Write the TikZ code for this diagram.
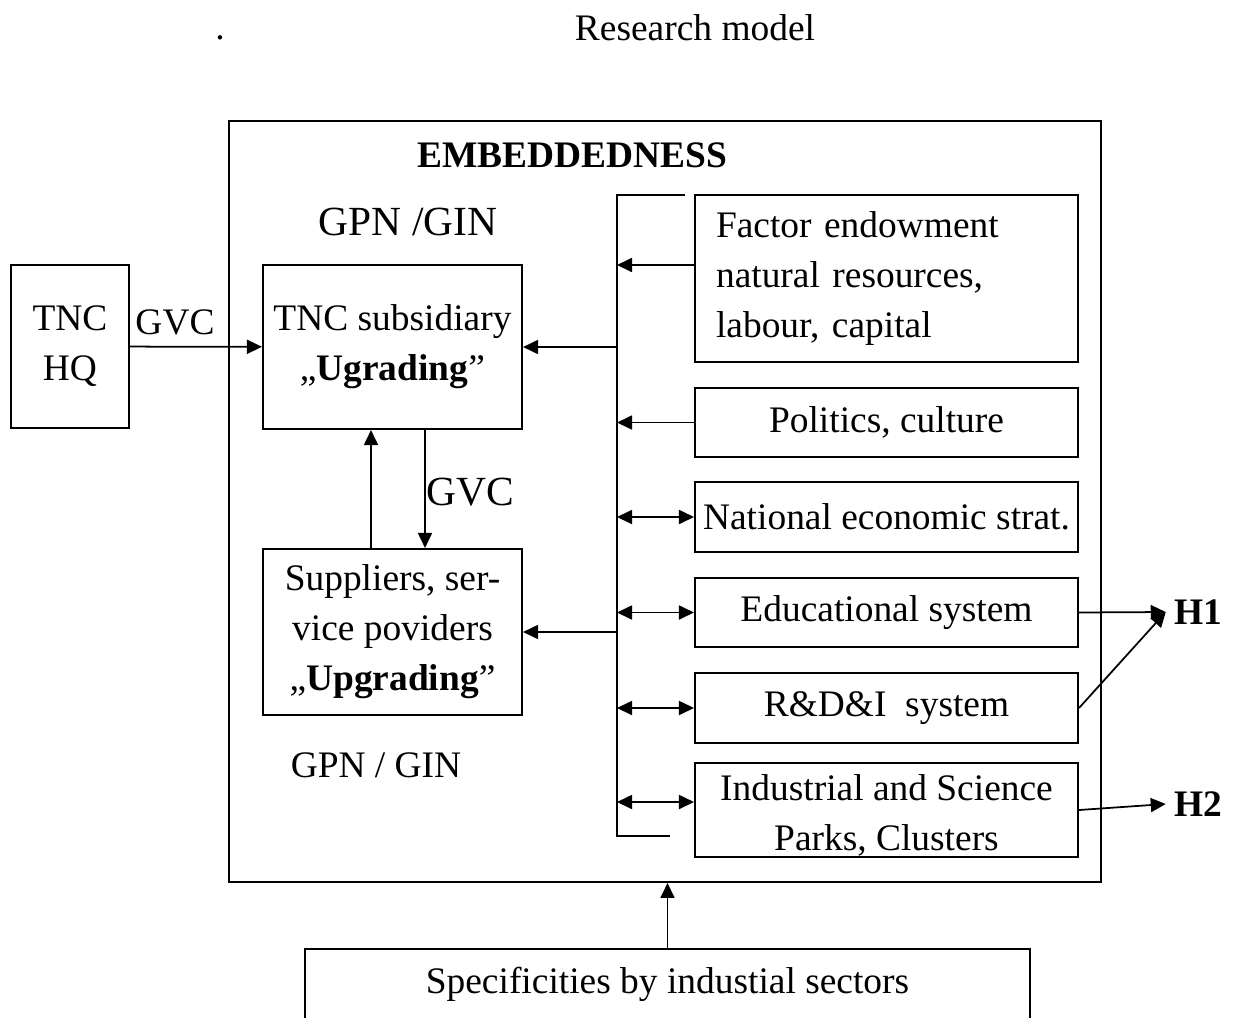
\documentclass[tikz,border=0pt]{standalone}
\usepackage{fontspec}
\setmainfont{Liberation Serif}
\usetikzlibrary{arrows.meta,positioning}

\begin{document}
\begin{tikzpicture}[x=0.02cm,y=-0.02cm]
\tikzset{box/.style = {shape=rectangle,draw,line width=1.2pt,inner sep=0pt,align=center,font=\fontsize{21.3}{28.45}\selectfont}}
\tikzset{lbl/.style = {inner sep=0pt,font=\fontsize{21.3}{28.45}\selectfont}}
\tikzset{biglbl/.style = {inner sep=0pt,font=\fontsize{23.6}{28.45}\selectfont}}
\tikzset{edge/.style = {-{Triangle[length=0.3cm,width=0.28cm]},line width=1pt}}
\tikzset{twoway/.style = {{Triangle[length=0.3cm,width=0.28cm]}-{Triangle[length=0.3cm,width=0.28cm]},line width=1pt}}
\useasboundingbox (0,0) rectangle (1236,1017);
\clip (0,0) rectangle (1236,1017);
% title
\node[lbl] (dot) at (220,38) {.};
\node[lbl] (title) at (695,28) {Research model};
% embeddedness frame
\node[box,minimum width=17.44cm,minimum height=15.22cm] (emb) at (665,501.5) {};
\node[lbl,font=\fontsize{21.3}{28.45}\selectfont\bfseries] (embtxt) at (572,155) {EMBEDDEDNESS};
\node[biglbl] (gpntop) at (408,222) {GPN /GIN};
\node[lbl] (gpnbot) at (376,765) {GPN / GIN};
% left part
\node[box,minimum width=2.36cm,minimum height=3.26cm] (hq) at (70,346.5) {TNC\\HQ};
\node[box,minimum width=5.18cm,minimum height=3.28cm] (sub) at (392.5,347) {TNC subsidiary\\„\textbf{Ugrading}”};
\node[box,minimum width=5.18cm,minimum height=3.32cm] (sup) at (392.5,632) {Suppliers, ser-\\vice poviders\\„\textbf{Upgrading}”};
\node[lbl] (gvcleft) at (175,322) {GVC};
\node[biglbl] (gvcmid) at (470,492) {GVC};
% right part
\node[box,align=left,inner xsep=0.42cm,text width=6.82cm,minimum height=3.34cm] (fac) at (886.5,278.5) {Factor endowment\\natural resources,\\labour, capital\\[-0.2cm]};
\node[box,minimum width=7.66cm,minimum height=1.38cm] (pol) at (886.5,422.5) {Politics, culture};
\node[box,minimum width=7.66cm,minimum height=1.4cm] (nat) at (886.5,517) {National economic strat.};
\node[box,minimum width=7.66cm,minimum height=1.38cm] (edu) at (886.5,612.5) {Educational system};
\node[box,minimum width=7.66cm,minimum height=1.4cm] (rdi) at (886.5,708) {R\&D\&I\ \ system};
\node[box,minimum width=7.66cm,minimum height=1.8cm] (ind) at (886.5,810) {\\[-0.25cm]Industrial and Science\\Parks, Clusters};
\node[lbl,inner xsep=0.16cm,font=\fontsize{21.3}{28.45}\selectfont\bfseries] (h1) at (1198,612) {H1};
\node[lbl,inner xsep=0.16cm,font=\fontsize{21.3}{28.45}\selectfont\bfseries] (h2) at (1198,804) {H2};
% bottom
\node[box,minimum width=14.5cm,minimum height=1.4cm] (spec) at (667.5,984) {Specificities by industial sectors};
% bus
\coordinate (bustop) at (617,195);
\coordinate (busbot) at (617,836);
\coordinate (topend) at (685,195);
\coordinate (botend) at (670,836);
\draw[line width=0.8pt] (topend) -- (bustop) -- (busbot) -- (botend);
\coordinate (facout) at ([yshift=0.27cm]fac.west);
\coordinate (indin) at ([yshift=0.16cm]ind.west);
% connectors
\draw[edge] (hq) -- (sub);
\draw[edge] ([xshift=-0.43cm]sup.north) -- ([xshift=-0.43cm]sub.south);
\draw[edge] ([xshift=0.65cm]sub.south) -- ([xshift=0.65cm]sup.north);
\draw[edge] (sub.east -| bustop) -- (sub.east);
\draw[edge] (sup.east -| bustop) -- (sup.east);
\draw[edge] (facout) -- (facout -| bustop);
\draw[edge] (pol.west) -- (pol.west -| bustop);
\foreach \n in {nat,edu,rdi}
  \draw[twoway] (\n.west -| bustop) -- (\n.west);
\draw[twoway] (indin -| bustop) -- (indin);
\draw[edge] (edu.east) -- (h1.west);
\draw[edge] (rdi.east) -- (h1.west);
\draw[edge] (ind.east) -- (h2.west);
\draw[edge] (spec.north) -- (spec.north |- emb.south);
\end{tikzpicture}
\end{document}
